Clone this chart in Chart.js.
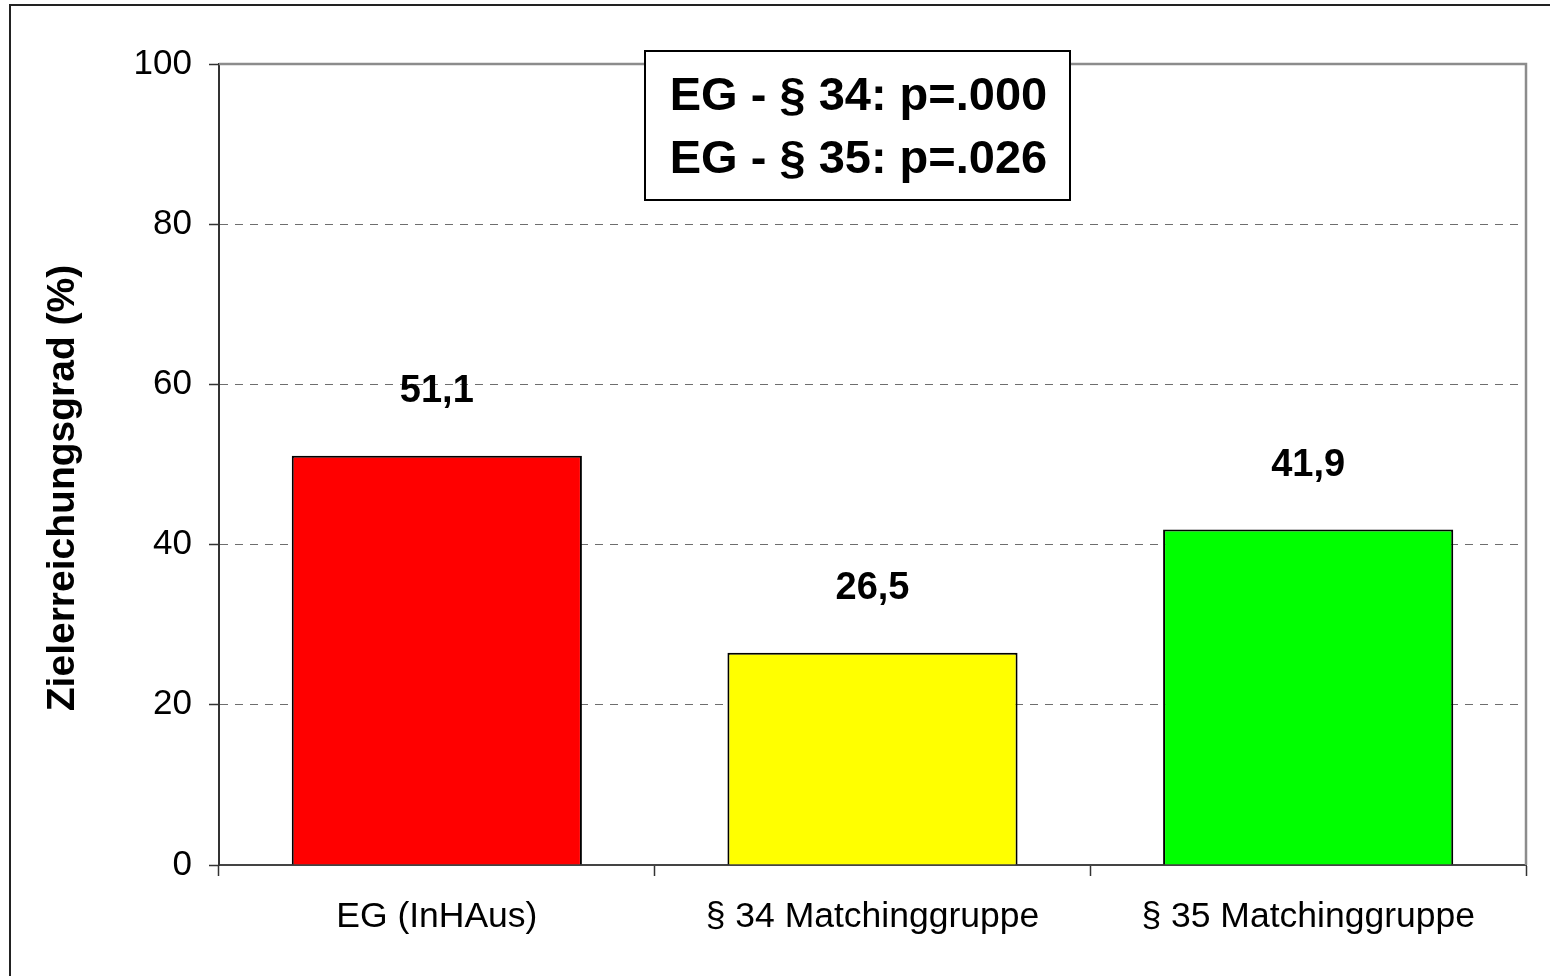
<!DOCTYPE html>
<html>
<head>
<meta charset="utf-8">
<script src="https://cdn.jsdelivr.net/npm/chart.js@4.4.1/dist/chart.umd.min.js"></script>
<style>
  html, body { margin: 0; padding: 0; background: #fff; }
  canvas { display: block; }
</style>
</head>
<body>
<canvas id="c" width="1550" height="976"></canvas>
<script>
// Zielerreichungsgrad per group
const categories = ['EG (InHAus)', '§ 34 Matchinggruppe', '§ 35 Matchinggruppe'];
const values = [51.1, 26.5, 41.9];
const barColors = ['#FF0000', '#FFFF00', '#00FF00'];
const yTicks = [0, 20, 40, 60, 80, 100];
const yTitle = 'Zielerreichungsgrad (%)';
const statLines = ['EG - § 34: p=.000', 'EG - § 35: p=.026'];

const FONT = '"Liberation Sans", Arial, Helvetica, sans-serif';

// white page, outer frame, grey plot-area border (top & right) and axis title
const framePlugin = {
  id: 'frame',
  beforeDraw(chart) {
    const ctx = chart.ctx;
    ctx.save();
    ctx.fillStyle = '#fff';
    ctx.fillRect(0, 0, chart.width, chart.height);
    ctx.strokeStyle = '#222';
    ctx.lineWidth = 2;
    ctx.beginPath();
    ctx.moveTo(10, chart.height);
    ctx.lineTo(10, 5);
    ctx.lineTo(chart.width, 5);
    ctx.stroke();

    // rotated y-axis title
    ctx.translate(63, 488);
    ctx.rotate(-Math.PI / 2);
    ctx.font = 'bold 39px ' + FONT;
    ctx.fillStyle = '#000';
    ctx.textAlign = 'center';
    ctx.textBaseline = 'middle';
    ctx.fillText(yTitle, 0, 0);
    ctx.restore();
  },
  beforeDatasetsDraw(chart) {
    const {ctx, chartArea: a} = chart;
    ctx.save();
    ctx.strokeStyle = '#8c8c8c';
    ctx.lineWidth = 2.5;
    ctx.beginPath();
    ctx.moveTo(a.left, a.top);
    ctx.lineTo(a.right, a.top);
    ctx.lineTo(a.right, a.bottom);
    ctx.stroke();
    ctx.restore();
  }
};

// value labels above each bar, German decimal comma
const valueLabels = {
  id: 'valueLabels',
  afterDatasetsDraw(chart) {
    const ctx = chart.ctx;
    const meta = chart.getDatasetMeta(0);
    ctx.save();
    ctx.font = 'bold 38px ' + FONT;
    ctx.fillStyle = '#000';
    ctx.textAlign = 'center';
    ctx.textBaseline = 'middle';
    meta.data.forEach((bar, i) => {
      const txt = values[i].toFixed(1).replace('.', ',');
      ctx.fillText(txt, bar.x, bar.y - 64);
    });
    ctx.restore();
  }
};

// significance box at the top of the plot
const statBox = {
  id: 'statBox',
  afterDraw(chart) {
    const ctx = chart.ctx;
    const x0 = 645, y0 = 51, w = 425, h = 149;
    ctx.save();
    ctx.fillStyle = '#fff';
    ctx.fillRect(x0, y0, w, h);
    ctx.strokeStyle = '#000';
    ctx.lineWidth = 2;
    ctx.strokeRect(x0, y0, w, h);
    ctx.font = 'bold 47px ' + FONT;
    ctx.fillStyle = '#000';
    ctx.textAlign = 'center';
    ctx.textBaseline = 'alphabetic';
    ctx.fillText(statLines[0], x0 + w / 2 + 1, 110);
    ctx.fillText(statLines[1], x0 + w / 2 + 1, 173);
    ctx.restore();
  }
};

new Chart(document.getElementById('c'), {
  type: 'bar',
  data: {
    labels: categories,
    datasets: [{
      data: values,
      backgroundColor: barColors,
      borderColor: '#000',
      borderWidth: 2,
      categoryPercentage: 1,
      barPercentage: 0.666
    }]
  },
  options: {
    responsive: false,
    animation: false,
    devicePixelRatio: 1,
    layout: { padding: { top: 64, right: 24, left: 0, bottom: 0 } },
    plugins: {
      legend: { display: false },
      tooltip: { enabled: false }
    },
    scales: {
      x: {
        grid: {
          offset: true,
          drawOnChartArea: false,
          drawTicks: true,
          tickLength: 11,
          tickColor: '#333',
          tickWidth: 1.5
        },
        border: { display: true, color: '#444', width: 2 },
        ticks: {
          color: '#000',
          font: { family: FONT, size: 35.5 },
          padding: 20,
          maxRotation: 0
        },
        afterFit(scale) { scale.height = 976 - 865; }
      },
      y: {
        min: 0,
        max: 100,
        afterBuildTicks(scale) { scale.ticks = yTicks.map(v => ({ value: v })); },
        grid: {
          color: c => (c.tick && (c.tick.value === 0 || c.tick.value === 100)) ? 'rgba(0,0,0,0)' : '#6e6e6e',
          lineWidth: 1,
          drawTicks: true,
          tickLength: 10,
          tickColor: '#333',
          tickWidth: 1.5,
          tickBorderDash: []
        },
        border: { display: true, color: '#333', width: 2, dash: [8, 7] },
        ticks: {
          color: '#000',
          font: { family: FONT, size: 35 },
          padding: 17
        },
        title: { display: false },
        afterFit(scale) { scale.width = 219; }
      }
    }
  },
  plugins: [framePlugin, valueLabels, statBox]
});
</script>
</body>
</html>
